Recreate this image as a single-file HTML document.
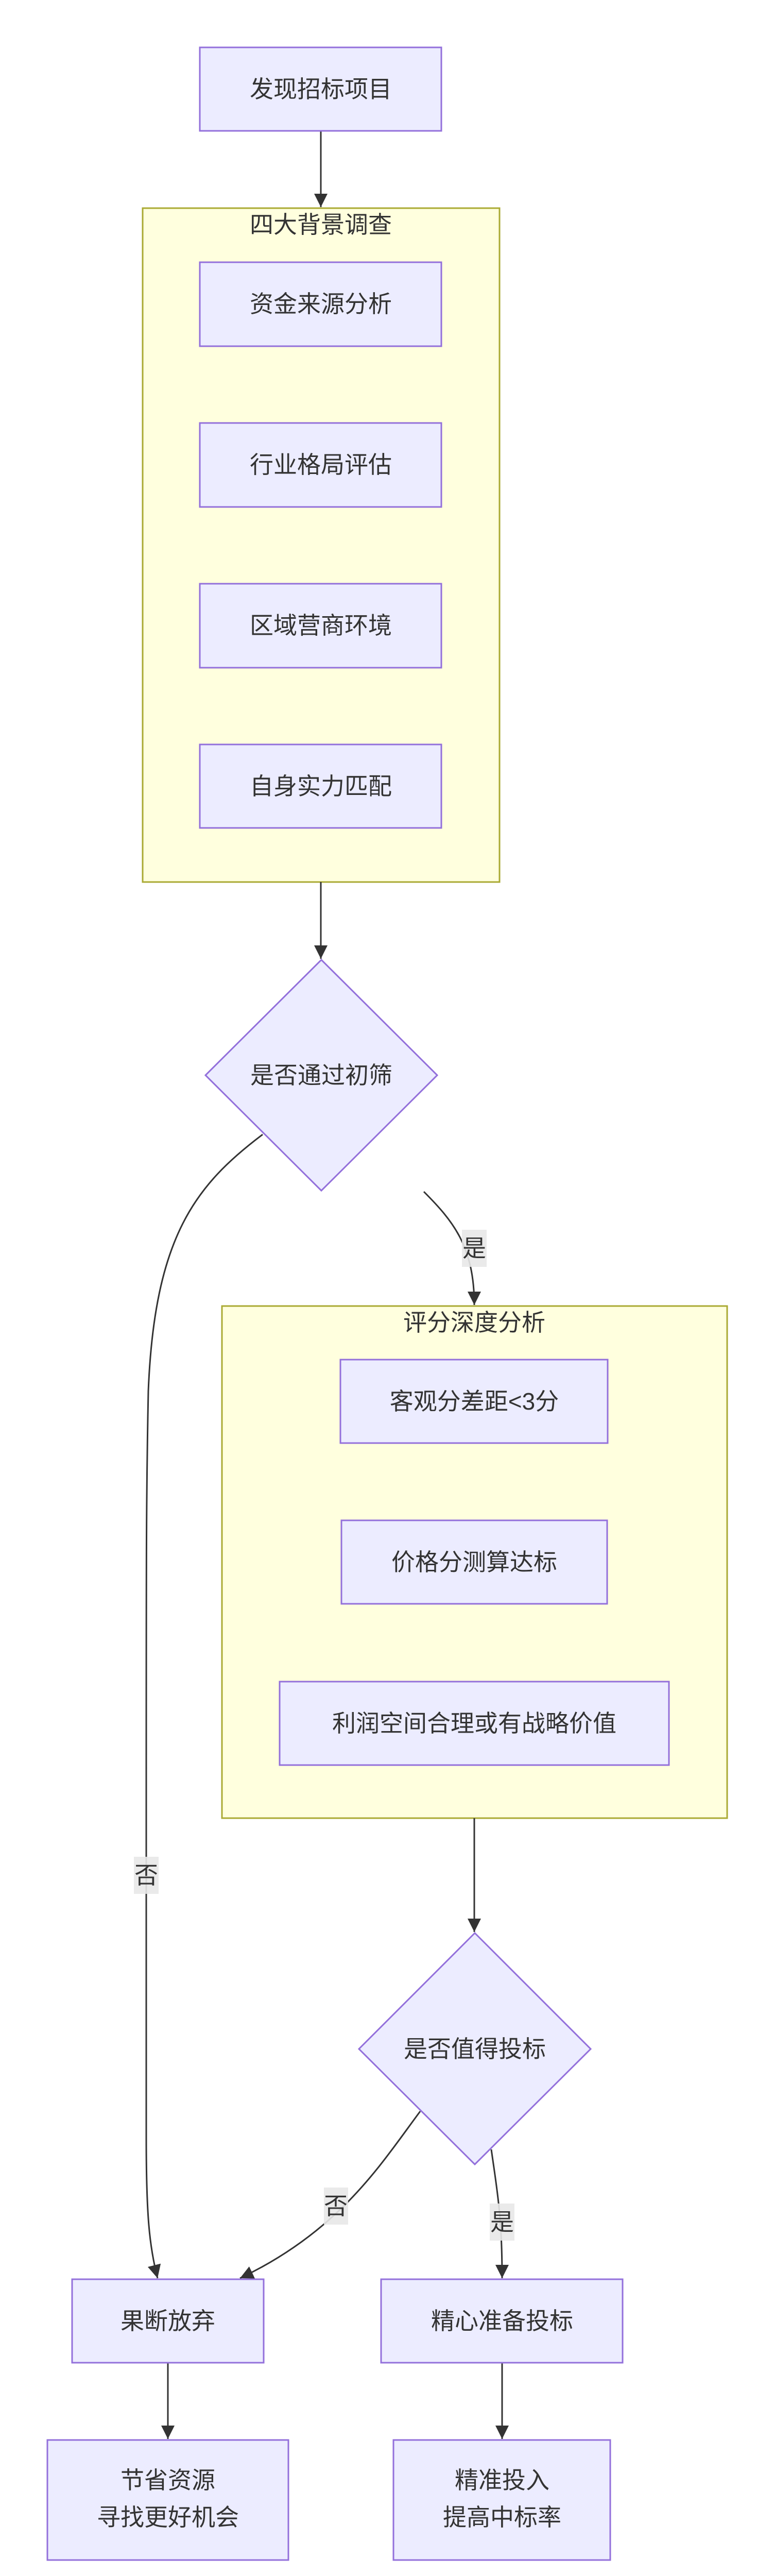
<!DOCTYPE html>
<html><head><meta charset="utf-8"><style>
html,body{margin:0;padding:0;background:#fff;width:1503px;height:5062px;overflow:hidden;}
svg{display:block;}
text{font-family:"Liberation Sans","Noto Sans CJK SC",sans-serif;fill:#333;}
</style></head><body>
<svg width="1503" height="5062" viewBox="0 0 1503 5062" xmlns="http://www.w3.org/2000/svg">
<defs>
<marker id="b" viewBox="0 0 10 10" refX="10" refY="5" markerWidth="26" markerHeight="26" markerUnits="userSpaceOnUse" orient="auto"><path d="M0,0L10,5L0,10z" fill="#333"/></marker></defs>
<g fill="#ffffde" stroke="#aaaa33" stroke-width="3">
<rect x="277" y="404" width="693" height="1308"/>
<rect x="431" y="2535" width="981" height="994"/>
</g>
<g font-size="46" text-anchor="middle">
<text x="623" y="452">四大背景调查</text>
<text x="921" y="2583">评分深度分析</text>
</g>
<g stroke="#333" stroke-width="3" fill="none">
<path d="M623,254 L623,402" marker-end="url(#b)"/>
<path d="M623,1712 L623,1861" marker-end="url(#b)"/>
<path d="M510,2202 C380,2300 300,2400 288,2700 C284,2900 284,3000 284,3500 L284,4150 C284,4300 290,4360 306,4422" marker-end="url(#b)"/>
<path d="M823,2313 C880,2370 921,2420 921,2533" marker-end="url(#b)"/>
<path d="M921,3529 L921,3750" marker-end="url(#b)"/>
<path d="M816,4098 C740,4200 660,4330 466,4422" marker-end="url(#b)"/>
<path d="M954,4172 C965,4250 975,4300 975,4422" marker-end="url(#b)"/>
<path d="M326,4586 L326,4734" marker-end="url(#b)"/>
<path d="M975,4586 L975,4734" marker-end="url(#b)"/>
</g>
<g fill="#ececff" stroke="#9370db" stroke-width="3">
<rect x="388" y="92" width="469" height="162"/>
<rect x="388" y="509" width="469" height="163"/>
<rect x="388" y="821" width="469" height="163"/>
<rect x="388" y="1133" width="469" height="163"/>
<rect x="388" y="1445" width="469" height="162"/>
<polygon points="624,1863 849,2087 624,2311 399,2087"/>
<rect x="661" y="2639" width="519" height="162"/>
<rect x="663" y="2951" width="516" height="162"/>
<rect x="543" y="3264" width="756" height="162"/>
<polygon points="922,3752 1147,3977 922,4201 697,3977"/>
<rect x="140" y="4424" width="372" height="162"/>
<rect x="740" y="4424" width="469" height="162"/>
<rect x="92" y="4736" width="468" height="233"/>
<rect x="764" y="4736" width="421" height="233"/>
</g>
<g fill="#e8e8e8" opacity="0.9">
<rect x="897" y="2387" width="48" height="72"/>
<rect x="260" y="3604" width="48" height="72"/>
<rect x="629" y="4246" width="47" height="72"/>
<rect x="951" y="4277" width="48" height="72"/>
</g>
<g font-size="46" text-anchor="middle">
<text x="623" y="189">发现招标项目</text>
<text x="623" y="606">资金来源分析</text>
<text x="623" y="918">行业格局评估</text>
<text x="623" y="1230">区域营商环境</text>
<text x="623" y="1542">自身实力匹配</text>
<text x="624" y="2103">是否通过初筛</text>
<text x="921" y="2736">客观分差距&lt;3分</text>
<text x="921" y="3048">价格分测算达标</text>
<text x="921" y="3361">利润空间合理或有战略价值</text>
<text x="922" y="3993">是否值得投标</text>
<text x="326" y="4521">果断放弃</text>
<text x="975" y="4521">精心准备投标</text>
<text x="326" y="4830">节省资源</text>
<text x="326" y="4902">寻找更好机会</text>
<text x="975" y="4830">精准投入</text>
<text x="975" y="4902">提高中标率</text>
<text x="921" y="2439">是</text>
<text x="284" y="3656">否</text>
<text x="652" y="4298">否</text>
<text x="975" y="4329">是</text>
</g>
</svg>
</body></html>
